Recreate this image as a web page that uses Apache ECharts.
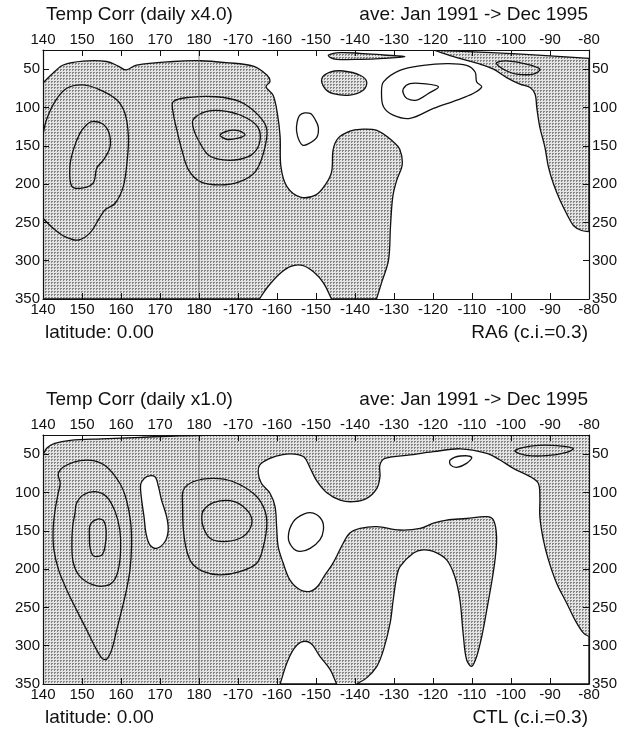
<!DOCTYPE html>
<html>
<head>
<meta charset="utf-8">
<script src="https://cdn.jsdelivr.net/npm/echarts@6/dist/echarts.min.js"></script>
<style>
html, body { margin: 0; padding: 0; background: #fff; }
#chart { width: 629px; height: 734px; }
</style>
</head>
<body>
<div id="chart"></div>
<script>
// longitude 140E .. 280E (280 = 80W), depth 25 .. 350
var depthTicks = [50, 100, 150, 200, 250, 300, 350];
var dateline = 180;

// ---- RA6 panel: shaded areas ----
var ra6ShadeA = [[140,68],[140,68],[142.6,55],[145.2,44.6],[150.3,39.5],[156.3,40],[159.3,46],[161.3,51],[164,44.6],[173.4,40],[180.3,39],[187,41.5],[193.9,46],[197.4,57.6],[198.2,66],[197.2,73],[199,84],[200.1,108],[200.8,138],[201,177],[202.5,203],[206,217],[210,214],[212.5,200],[214,184],[214.4,155],[215.7,140],[218.7,131],[221.3,128.5],[225.6,130],[229.8,144.6],[231.5,155],[232.1,175],[230.7,195],[229.7,216],[229.1,255],[228.6,299],[226.8,329],[225.5,350],[225.5,350],[214,350],[214,350],[211.9,329],[209.5,315],[206.5,306],[203.5,307.5],[200.5,318],[197.5,335],[195.5,350],[195.5,350],[140,350],[140,350]];
var ra6ShadeB = [[213.2,31.5],[216.2,28.5],[221.3,29.3],[227.3,31.5],[232.8,33.7],[227.3,35.9],[221.3,37.2],[215.3,37.2],[213.6,34.6]];
var ra6ShadeC = [[211.5,62.4],[213.6,54],[217,52.4],[221.3,58],[223,66.7],[222.1,77.6],[218.7,84],[214.4,82],[212.3,75.4]];
var ra6ShadeD = [[240,25],[240,25],[255,28.5],[268,32],[280,36],[280,36],[280,262],[280,262],[278.1,260.6],[276,254],[274.3,239],[272.6,221.5],[270.9,200],[269.6,178],[268.7,152],[267.4,126],[266.6,100],[266.2,83],[264.9,74],[262.3,69.6],[258.9,61],[255.5,50],[252.1,43.5],[246.1,35]];

// ---- RA6 panel: contour lines ----
var ra6Line1 = [[140,136],[140.9,116],[143.1,92],[146.1,75],[150.3,70.6],[154.6,77],[158.9,90],[161,107.6],[161.9,138],[161.6,168.5],[160.6,203],[158.5,225],[155.9,233.7],[154.2,246.7],[152,264],[149.1,273],[145.6,268.5],[142.6,257.6],[140,244.6]];
var ra6Line2 = [[152.5,118.5],[155,120.6],[156.8,131.5],[157.2,151],[155.5,168.5],[153.8,179],[152.9,198.5],[150.3,205],[147.4,203],[146.9,177],[147.8,155],[149.5,133.5],[151.2,122.6]];
var ra6Line3 = [[173.4,92.4],[177.7,86.7],[184.5,86],[190.5,92.4],[195.2,110],[197.4,129],[196.5,160],[194.4,184],[190.5,196.7],[185.4,201],[180.3,196.7],[177.3,181.5],[175.6,155.4],[174.3,129],[173.4,107.6]];
var ra6Line4 = [[178.5,116],[182,105],[187.1,105],[192.2,113.7],[195.2,126.7],[195.6,144.6],[193.9,160],[190.5,167.6],[186.2,168.5],[182.4,162],[180.3,146.8],[178.7,129.6]];
var ra6Line5 = [[185.4,136],[188,130],[190.5,131],[191.8,136],[189.7,140.5],[187.1,141.5]];
var ra6Line6 = [[205.9,109.8],[208.5,107.6],[209.8,116],[210.6,126],[210.2,139],[208,147.6],[206.5,149],[205.3,138],[205,125]];
var ra6Line7 = [[227.3,66.7],[231.5,51.5],[237.5,45],[243.5,42.8],[248.6,45],[250.8,53.7],[251.2,66.7],[252.5,73],[250.3,81.8],[246.1,90.4],[240.1,101.3],[234.1,114.3],[229.8,110],[227.3,99],[226.8,81.8]];
var ra6Line8 = [[232.4,75.4],[234.1,69],[237.5,69],[241.4,73],[238.8,81.8],[235.8,90.4],[233.3,88.3],[232.4,81.8]];
var ra6Line9 = [[256.3,41.5],[258.9,39.3],[264,43.5],[267.4,50],[265.7,56.5],[261.5,56.5],[258.9,52.4],[256.8,46]];

// ---- CTL panel: shaded background and white holes ----
var ctlShadeAll = [[140,25],[280,25],[280,350],[140,350]];
var ctlWhiteCorner = [[140,25],[140,25],[185,25],[185,25],[175,26],[165,28],[155,30],[147,32],[143,36],[141,42],[140,51],[140,51]];
var ctlWhiteBlob = [[165.3,86],[166.6,79.4],[168.7,79.4],[169.6,92.4],[170.4,110],[171.7,131.5],[172.1,149],[171.3,164],[169.1,173],[167.4,168.5],[166.4,153],[165.9,131.5],[165.3,110],[165,92.4]];
var ctlWhiteBump = [[200.8,350],[200.8,350],[202.5,323],[204.2,305],[206.3,295],[208.7,297],[211,314],[213.6,331],[215.3,350],[215.3,350]];
var ctlWhiteBig = [[220.4,350],[220.4,350],[223,342],[225.6,327],[227.3,305.5],[229,270.7],[229.8,240],[230.7,210],[231.5,197],[235,179],[237.5,175],[240.1,177],[243.5,188],[245.6,210],[246.9,240],[247.8,288],[248.6,318],[249.9,327],[251.2,314],[252.5,288],[253.8,253],[255,218.5],[255.9,188],[256.3,157.6],[255.5,136],[253.8,131.5],[248.6,134],[243.5,136],[240.1,140],[236.7,147],[231.5,149],[225.6,144.6],[221.3,147],[218.7,153],[217,166],[214.4,192],[212,210],[210.5,222],[208.5,229],[205.9,227],[203.3,214],[201.6,192.4],[200.3,170.7],[199.9,144.6],[199.5,118.5],[198.2,101],[196,88],[195.2,75],[195.6,64],[198.2,55.5],[201.5,50.5],[204.5,50],[207,54],[208.5,68],[210.2,85],[212.7,100],[216.2,110],[219.6,112],[223,107.7],[225.6,94.6],[226.4,79.4],[226.4,64],[227.7,55.5],[234.1,51],[240.1,46.8],[247,43],[253.8,49],[257.2,57.6],[260.6,68.5],[264.9,79.4],[267,88],[267.4,105.5],[267.4,131.5],[268.3,162],[269.6,188],[271.7,218.5],[274.3,244.6],[276.4,266.3],[278.6,283.7],[280,288],[280,288],[280,350],[280,350]];

// ---- CTL panel: contour lines ----
var ctlLine1 = [[144.4,70.7],[146.1,64.2],[149.5,58.5],[152.9,58.5],[156.3,66.3],[159.7,88],[161.4,109.8],[162.5,140],[162.7,170.7],[162.3,201],[161.4,227.2],[160.2,253.3],[158.9,279.4],[157.6,305.5],[156.3,317.6],[155.1,316.3],[153.3,301],[151.2,279.4],[148.6,253.3],[146.1,227.2],[144,201],[142.8,175],[142.6,149],[143.1,122.9],[143.9,101],[144.4,88],[143.9,77.2]];
var ctlLine2 = [[148.6,114.2],[150.3,103.3],[153.3,99],[156.3,105.5],[158.5,125],[159.7,149],[159.9,175],[159.3,201],[158,216.3],[155.9,222],[152.9,220.7],[149.5,209.8],[147.8,192.4],[147.4,170.7],[147.6,144.6],[148.2,127.2]];
var ctlLine3 = [[152.1,142.4],[153.8,135],[155.5,136.8],[156.2,151],[155.9,170.7],[155.1,181.5],[153,182.9],[152.1,172.9],[151.9,157.6]];
var ctlLine4 = [[176,96.8],[178.5,86],[183.7,81.6],[188.8,86],[193.9,101],[196.5,118.5],[197.4,140],[196.5,170.7],[194.8,192.4],[190.5,203.3],[185.4,207.6],[181.2,203.3],[178.2,192.4],[176.8,175],[176,149],[175.8,118.5]];
var ctlLine5 = [[181.2,122.9],[183.7,113.3],[188,110.7],[191.4,118.5],[193.5,133.7],[192.9,149],[190.5,159.8],[186.2,164.2],[182.8,159.8],[181.2,146.8],[180.7,133.7]];
var ctlLine6 = [[261,46],[263,41.5],[267,38.5],[272,39],[276,42.5],[274,48],[269,52],[264,51.5]];
var ctlLine7 = [[202.9,158],[204.2,138],[207,128],[209.3,127],[211.5,136],[211.9,149],[211,162],[208.5,173],[205.9,177],[204,172]];
var ctlLine8 = [[244.4,57.6],[247,52.4],[249.9,54],[248.6,62],[246.1,67.2],[244.5,64]];

var chart = echarts.init(document.getElementById('chart'));

// stipple fill like the scanned grey screen
var stipple = (function () {
    var c = document.createElement('canvas');
    c.width = 3;
    c.height = 3;
    var g = c.getContext('2d');
    g.fillStyle = '#e4e4e4';
    g.fillRect(0, 0, 3, 3);
    g.fillStyle = '#858585';
    g.fillRect(0, 0, 2, 1);
    g.fillRect(0, 1, 1, 1);
    return c;
})();
var shadeFill = { type: 'pattern', image: stipple, repeat: 'repeat' };

var FONT = '"Liberation Sans", Arial, Helvetica, sans-serif';
var lineStyleBlack = { fill: 'none', stroke: '#111', lineWidth: 1.3 };

function shape(pts, panel, style, closed, smooth) {
    return {
        type: 'custom',
        xAxisIndex: panel * 2,
        yAxisIndex: panel * 2,
        clip: true,
        silent: true,
        animation: false,
        data: pts,
        renderItem: function (params, api) {
            if (params.dataIndex !== 0) return;
            var xy = pts.map(function (p) { return api.coord(p); });
            return {
                type: closed ? 'polygon' : 'polyline',
                shape: { points: xy, smooth: smooth },
                style: style
            };
        }
    };
}

function datelineSeries(panel) {
    var pts = [[dateline, 25], [dateline, 350]];
    return shape(pts, panel, { fill: 'none', stroke: '#6a6a6a', lineWidth: 0.8 }, false, 0);
}

function lonLabel(v) {
    return v > 180 ? String(v - 360) : String(v);
}

function xAxes(grid) {
    return ['bottom', 'top'].map(function (pos) {
        return {
            type: 'value',
            gridIndex: grid,
            position: pos,
            min: 140,
            max: 280,
            interval: 10,
            z: 10,
            axisLine: { show: true, onZero: false, lineStyle: { color: '#111', width: 1.2 } },
            axisTick: { show: true, inside: true, length: 6, lineStyle: { color: '#111', width: 1 } },
            splitLine: { show: false },
            axisLabel: {
                show: true, margin: 3, color: '#111', fontSize: 15, fontFamily: FONT,
                showMinLabel: true, showMaxLabel: true,
                formatter: lonLabel
            }
        };
    });
}

function yAxes(grid) {
    return ['left', 'right'].map(function (pos) {
        return {
            type: 'value',
            gridIndex: grid,
            position: pos,
            inverse: true,
            min: 25,
            max: 350,
            z: 10,
            axisLine: { show: true, onZero: false, lineStyle: { color: '#111', width: 1.2 } },
            axisTick: { show: true, inside: true, length: 6, customValues: depthTicks, lineStyle: { color: '#111', width: 1 } },
            splitLine: { show: false },
            axisLabel: {
                show: true, margin: 3, color: '#111', fontSize: 15, fontFamily: FONT,
                customValues: depthTicks
            }
        };
    });
}

function txt(x, y, s, align) {
    return {
        type: 'text', x: x, y: y, silent: true,
        style: {
            text: s, fill: '#111', font: '19px ' + FONT,
            textAlign: align, align: align,
            textVerticalAlign: 'middle', verticalAlign: 'middle'
        }
    };
}

var shadeStyle = { fill: shadeFill, stroke: '#111', lineWidth: 1.3 };
var whiteStyle = { fill: '#fff', stroke: '#111', lineWidth: 1.3 };

var series = [
    shape(ra6ShadeA, 0, shadeStyle, true, 0.35),
    shape(ra6ShadeB, 0, shadeStyle, true, 0.35),
    shape(ra6ShadeC, 0, shadeStyle, true, 0.35),
    shape(ra6ShadeD, 0, shadeStyle, true, 0.35),
    shape(ra6Line1, 0, lineStyleBlack, false, 0.35),
    shape(ra6Line2, 0, lineStyleBlack, true, 0.35),
    shape(ra6Line3, 0, lineStyleBlack, true, 0.35),
    shape(ra6Line4, 0, lineStyleBlack, true, 0.35),
    shape(ra6Line5, 0, lineStyleBlack, true, 0.35),
    shape(ra6Line6, 0, lineStyleBlack, true, 0.35),
    shape(ra6Line7, 0, lineStyleBlack, true, 0.35),
    shape(ra6Line8, 0, lineStyleBlack, true, 0.35),
    shape(ra6Line9, 0, lineStyleBlack, true, 0.35),
    datelineSeries(0),

    shape(ctlShadeAll, 1, { fill: shadeFill }, true, 0),
    shape(ctlWhiteCorner, 1, whiteStyle, true, 0.35),
    shape(ctlWhiteBlob, 1, whiteStyle, true, 0.35),
    shape(ctlWhiteBump, 1, whiteStyle, true, 0.35),
    shape(ctlWhiteBig, 1, whiteStyle, true, 0.35),
    shape(ctlLine1, 1, lineStyleBlack, true, 0.35),
    shape(ctlLine2, 1, lineStyleBlack, true, 0.35),
    shape(ctlLine3, 1, lineStyleBlack, true, 0.35),
    shape(ctlLine4, 1, lineStyleBlack, true, 0.35),
    shape(ctlLine5, 1, lineStyleBlack, true, 0.35),
    shape(ctlLine6, 1, lineStyleBlack, true, 0.35),
    shape(ctlLine7, 1, lineStyleBlack, true, 0.35),
    shape(ctlLine8, 1, lineStyleBlack, true, 0.35),
    datelineSeries(1)
];

var option = {
    backgroundColor: '#fff',
    animation: false,
    grid: [
        { left: 43, top: 50, width: 546, height: 249, outerBoundsMode: 'none' },
        { left: 43, top: 435, width: 546, height: 249, outerBoundsMode: 'none' }
    ],
    xAxis: xAxes(0).concat(xAxes(1)),
    yAxis: yAxes(0).concat(yAxes(1)),
    series: series,
    graphic: [
        txt(46, 15, 'Temp Corr (daily x4.0)', 'left'),
        txt(588, 15, 'ave: Jan 1991 -> Dec 1995', 'right'),
        txt(45, 333, 'latitude: 0.00', 'left'),
        txt(588, 333, 'RA6 (c.i.=0.3)', 'right'),
        txt(46, 400, 'Temp Corr (daily x1.0)', 'left'),
        txt(588, 400, 'ave: Jan 1991 -> Dec 1995', 'right'),
        txt(45, 718, 'latitude: 0.00', 'left'),
        txt(588, 718, 'CTL (c.i.=0.3)', 'right')
    ]
};

chart.setOption(option);
</script>
</body>
</html>
